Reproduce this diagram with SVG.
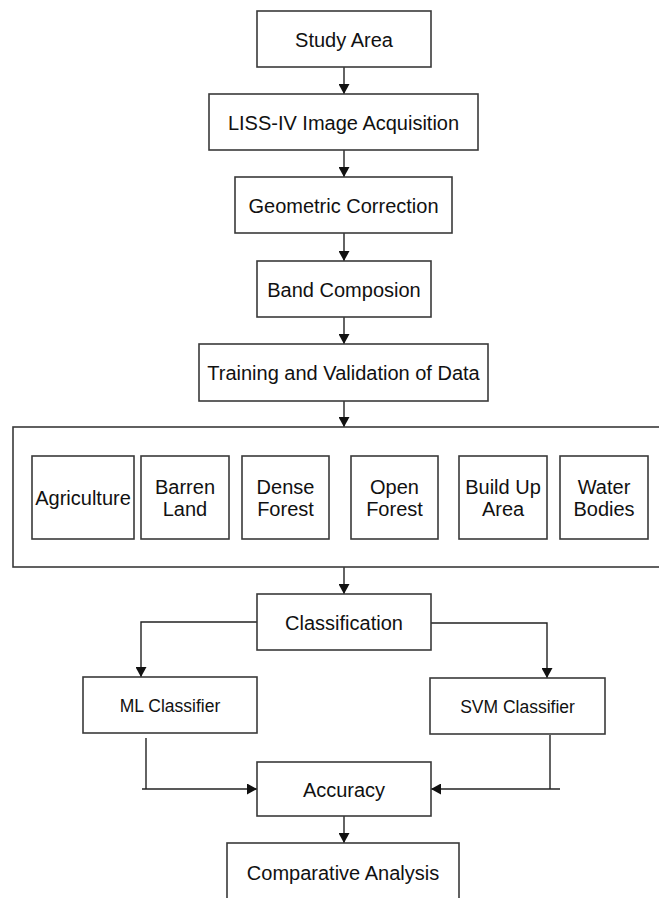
<svg xmlns="http://www.w3.org/2000/svg" width="659" height="898" viewBox="0 0 659 898">
<defs>
<style>
.box{fill:#fff;stroke:#3a3a3a;stroke-width:1.6}
.t{font-family:"Liberation Sans",Arial,sans-serif;font-size:20px;fill:#111;text-anchor:middle}
.s{font-family:"Liberation Sans",Arial,sans-serif;font-size:17.5px;fill:#111;text-anchor:middle}
.c{fill:none;stroke:#222;stroke-width:1.4}
</style>
<marker id="ah" viewBox="0 0 10 10" refX="10" refY="5" markerWidth="10" markerHeight="11" markerUnits="userSpaceOnUse" orient="auto" preserveAspectRatio="none">
<path d="M0,0 L10,5 L0,10 z" fill="#111"/>
</marker>
</defs>
<rect width="659" height="898" fill="#fff"/>
<g id="connectors">
<path class="c" d="M344,67 V94" marker-end="url(#ah)"/>
<path class="c" d="M344,150 V177" marker-end="url(#ah)"/>
<path class="c" d="M344,233 V261" marker-end="url(#ah)"/>
<path class="c" d="M344,317 V344" marker-end="url(#ah)"/>
<path class="c" d="M344,401 V427" marker-end="url(#ah)"/>
<path class="c" d="M344,567 V594" marker-end="url(#ah)"/>
<path class="c" d="M257,622 H141 V677" marker-end="url(#ah)"/>
<path class="c" d="M431,623 H547 V678" marker-end="url(#ah)"/>
<path class="c" d="M146,738 V789"/>
<path class="c" d="M142,789 H257" marker-end="url(#ah)"/>
<path class="c" d="M550,735 V789"/>
<path class="c" d="M560,789 H431" marker-end="url(#ah)"/>
<path class="c" d="M344,816 V843" marker-end="url(#ah)"/>
</g>
<g id="study-area"><rect class="box" x="257" y="11" width="174" height="56"/><text class="t" x="344" y="47">Study Area</text></g>
<g id="liss-iv"><rect class="box" x="209" y="94" width="269" height="56"/><text class="t" x="343.5" y="130">LISS-IV Image Acquisition</text></g>
<g id="geometric"><rect class="box" x="235" y="177" width="217" height="56"/><text class="t" x="343.5" y="213">Geometric Correction</text></g>
<g id="band"><rect class="box" x="257" y="261" width="174" height="56"/><text class="t" x="344" y="297">Band Composion</text></g>
<g id="training"><rect class="box" x="199" y="344" width="289" height="57"/><text class="t" x="343.5" y="380">Training and Validation of Data</text></g>
<g id="classes">
<rect class="box" x="13" y="427" width="660" height="140"/>
</g>
<g id="agriculture"><rect class="box" x="32" y="456" width="102" height="83"/><text class="t" x="83" y="505">Agriculture</text></g>
<g id="barren"><rect class="box" x="141" y="456" width="88" height="83"/><text class="t" x="185" y="494">Barren</text><text class="t" x="185" y="516">Land</text></g>
<g id="dense"><rect class="box" x="242" y="456" width="87" height="83"/><text class="t" x="285.5" y="494">Dense</text><text class="t" x="285.5" y="516">Forest</text></g>
<g id="open"><rect class="box" x="351" y="456" width="87" height="83"/><text class="t" x="394.5" y="494">Open</text><text class="t" x="394.5" y="516">Forest</text></g>
<g id="buildup"><rect class="box" x="459" y="456" width="88" height="83"/><text class="t" x="503" y="494">Build Up</text><text class="t" x="503" y="516">Area</text></g>
<g id="water"><rect class="box" x="560" y="456" width="88" height="83"/><text class="t" x="604" y="494">Water</text><text class="t" x="604" y="516">Bodies</text></g>
<g id="classification"><rect class="box" x="257" y="594" width="174" height="56"/><text class="t" x="344" y="630">Classification</text></g>
<g id="ml"><rect class="box" x="83" y="677" width="174" height="56"/><text class="s" x="170" y="712">ML Classifier</text></g>
<g id="svm"><rect class="box" x="430" y="678" width="175" height="56"/><text class="s" x="517.5" y="713">SVM Classifier</text></g>
<g id="accuracy"><rect class="box" x="257" y="762" width="174" height="54"/><text class="t" x="344" y="797">Accuracy</text></g>
<g id="comparative"><rect class="box" x="227" y="843" width="232" height="70"/><text class="t" x="343" y="880">Comparative Analysis</text></g>
</svg>
